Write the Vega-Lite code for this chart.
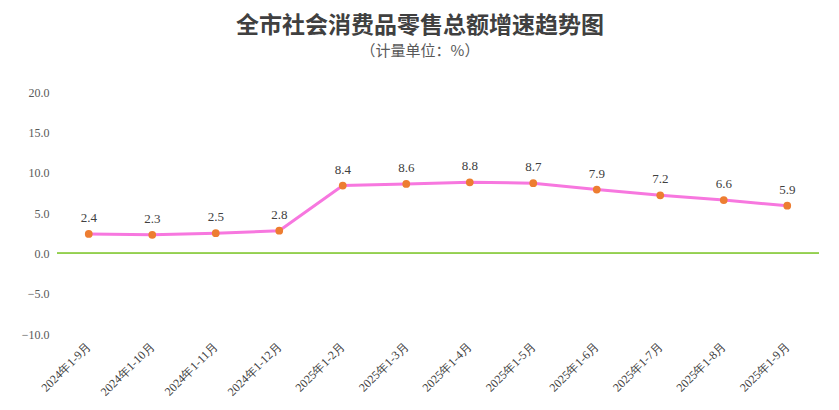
{
  "$schema": "https://vega.github.io/schema/vega-lite/v6.json",
  "autosize": {"type": "none"},
  "padding": {"left": 57, "top": 92, "right": 20, "bottom": 76},
  "width": 762,
  "height": 242,
  "background": "white",
  "title": {
    "text": "全市社会消费品零售总额增速趋势图",
    "subtitle": "（计量单位：%）",
    "anchor": "middle",
    "dx": -18,
    "offset": 27,
    "font": "Noto Sans CJK SC",
    "fontSize": 23,
    "fontWeight": "bold",
    "color": "#404040",
    "subtitleFont": "Noto Sans CJK SC",
    "subtitleFontSize": 15,
    "subtitleColor": "#595959",
    "subtitlePadding": 6
  },
  "data": {
    "values": [
      {"period": "2024年1-9月", "growth": 2.4},
      {"period": "2024年1-10月", "growth": 2.3},
      {"period": "2024年1-11月", "growth": 2.5},
      {"period": "2024年1-12月", "growth": 2.8},
      {"period": "2025年1-2月", "growth": 8.4},
      {"period": "2025年1-3月", "growth": 8.6},
      {"period": "2025年1-4月", "growth": 8.8},
      {"period": "2025年1-5月", "growth": 8.7},
      {"period": "2025年1-6月", "growth": 7.9},
      {"period": "2025年1-7月", "growth": 7.2},
      {"period": "2025年1-8月", "growth": 6.6},
      {"period": "2025年1-9月", "growth": 5.9}
    ]
  },
  "encoding": {
    "x": {
      "field": "period",
      "type": "ordinal",
      "sort": null,
      "scale": {"type": "band", "paddingInner": 0, "paddingOuter": 0},
      "axis": {
        "title": null,
        "domain": false,
        "ticks": false,
        "grid": false,
        "labelAngle": -45,
        "labelAlign": "right",
        "labelBaseline": "middle",
        "labelPadding": 10,
        "labelFont": "Liberation Serif",
        "labelFontSize": 12,
        "labelColor": "#404040"
      }
    },
    "y": {
      "field": "growth",
      "type": "quantitative",
      "scale": {"domain": [-10, 20], "nice": false},
      "axis": {
        "title": null,
        "domain": false,
        "ticks": false,
        "grid": false,
        "values": [-10, -5, 0, 5, 10, 15, 20],
        "format": ".1f",
        "labelPadding": 8,
        "labelFont": "Liberation Serif",
        "labelFontSize": 12,
        "labelColor": "#595959"
      }
    }
  },
  "layer": [
    {
      "mark": {"type": "rule", "color": "#92d050", "strokeWidth": 1},
      "encoding": {"y": {"datum": 0}, "x": null}
    },
    {
      "mark": {"type": "line", "color": "#f777df", "strokeWidth": 3}
    },
    {
      "mark": {"type": "point", "filled": true, "color": "#ed7d31", "opacity": 1, "size": 60}
    },
    {
      "mark": {"type": "text", "dy": -16, "font": "Liberation Serif", "fontSize": 13, "color": "#404040"},
      "encoding": {"text": {"field": "growth", "type": "quantitative", "format": ".1f"}}
    }
  ],
  "config": {
    "view": {"stroke": null}
  }
}
